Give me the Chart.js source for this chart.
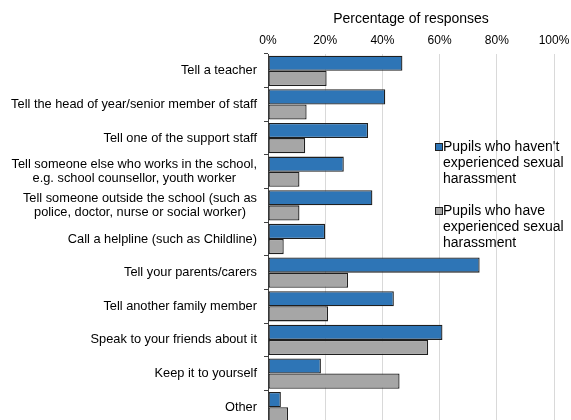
<!DOCTYPE html>
<html>
<head>
<meta charset="utf-8">
<script src="https://cdn.jsdelivr.net/npm/chart.js@4"></script>
<style>
  html, body { margin: 0; padding: 0; background: #fff; overflow: hidden; }
  #wrap { width: 571px; height: 426px; }
</style>
</head>
<body>
<div id="wrap"><canvas id="grafico" width="571" height="426"></canvas></div>
<script>
// categorias (eixo y)
const categorias = [
    ['Tell a teacher'],
    ['Tell the head of year/senior member of staff'],
    ['Tell one of the support staff'],
    ['Tell someone else who works in the school,', 'e.g. school counsellor, youth worker'],
    ['Tell someone outside the school (such as', 'police, doctor, nurse or social worker)'],
    ['Call a helpline (such as Childline)'],
    ['Tell your parents/carers'],
    ['Tell another family member'],
    ['Speak to your friends about it'],
    ['Keep it to yourself'],
    ['Other']
]

// valores em %
const semAssedio = [47, 41, 35, 26.5, 36.5, 20, 74, 44, 61, 18.5, 4.5]
const comAssedio = [20.5, 13.5, 13, 11, 11, 5.5, 28, 21, 56, 46, 7]

const nomeSem = ["Pupils who haven't", 'experienced sexual', 'harassment']
const nomeCom = ['Pupils who have', 'experienced sexual', 'harassment']

const ticksX = [0, 20, 40, 60, 80, 100]

const fonte = 'Arial, "Liberation Sans", sans-serif'

// rótulos do eixo y desenhados a mão (linhas centralizadas, bloco alinhado à direita)
const rotulosY = {
    id: 'rotulosY',
    afterDraw(chart) {
        const ctx = chart.ctx
        const y = chart.scales.y
        const direita = chart.chartArea.left - 11
        ctx.save()
        ctx.font = '12.8px ' + fonte
        ctx.fillStyle = '#000'
        ctx.textAlign = 'center'
        ctx.textBaseline = 'middle'
        for (var i = 0; i < categorias.length; i++) {
            var linhas = categorias[i]
            var largura = 0
            for (var j = 0; j < linhas.length; j++) {
                largura = Math.max(largura, ctx.measureText(linhas[j]).width)
            }
            var centroY = y.getPixelForTick(i)
            var alt = 14
            var inicio = centroY - (linhas.length - 1) * alt / 2
            for (var j = 0; j < linhas.length; j++) {
                ctx.fillText(linhas[j], direita - largura / 2, inicio + j * alt)
            }
        }
        ctx.restore()
    }
}

// legenda dentro da área do gráfico
const legenda = {
    id: 'legenda',
    afterDraw(chart) {
        const ctx = chart.ctx
        const itens = [
            { linhas: nomeSem, ds: chart.data.datasets[0], y: 147 },
            { linhas: nomeCom, ds: chart.data.datasets[1], y: 211 }
        ]
        ctx.save()
        ctx.font = '14px ' + fonte
        ctx.textBaseline = 'middle'
        ctx.textAlign = 'left'
        itens.forEach(function (item) {
            ctx.fillStyle = item.ds.backgroundColor
            ctx.strokeStyle = item.ds.borderColor
            ctx.lineWidth = 1
            ctx.fillRect(436, item.y - 3, 6, 6)
            ctx.strokeRect(435.5, item.y - 3.5, 7, 7)
            ctx.fillStyle = '#000'
            for (var j = 0; j < item.linhas.length; j++) {
                ctx.fillText(item.linhas[j], 443, item.y + j * 16)
            }
        })
        ctx.restore()
    }
}

new Chart(document.getElementById('grafico'), {
    type: 'bar',
    data: {
        labels: categorias,
        datasets: [{
            label: nomeSem.join(' '),
            data: semAssedio,
            backgroundColor: '#2E75B6',
            borderColor: '#1F1F1F',
            borderWidth: 1.3,
            borderSkipped: false,
            categoryPercentage: 0.9,
            barPercentage: 1
        }, {
            label: nomeCom.join(' '),
            data: comAssedio,
            backgroundColor: '#A6A6A6',
            borderColor: '#1F1F1F',
            borderWidth: 1.3,
            borderSkipped: false,
            categoryPercentage: 0.9,
            barPercentage: 1
        }]
    },
    options: {
        indexAxis: 'y',
        responsive: false,
        animation: false,
        layout: { padding: { left: 0, right: 17, top: 0, bottom: 2 } },
        plugins: {
            legend: { display: false },
            tooltip: { enabled: false }
        },
        scales: {
            x: {
                position: 'top',
                min: 0,
                max: 100,
                afterBuildTicks(scale) {
                    scale.ticks = ticksX.map(function (v) { return { value: v } })
                },
                afterFit(scale) {
                    scale.height = 54
                    scale.paddingLeft = 0
                    scale.paddingRight = 0
                },
                ticks: {
                    padding: 6,
                    color: '#000',
                    font: { family: fonte, size: 12 },
                    callback: function (v) { return v + '%' }
                },
                grid: { color: '#D9D9D9', drawTicks: false },
                border: { display: false },
                title: {
                    display: true,
                    text: 'Percentage of responses',
                    color: '#000',
                    font: { family: fonte, size: 14 },
                    padding: { top: 11, bottom: 0 }
                }
            },
            y: {
                afterFit(scale) { scale.width = 268 },
                ticks: { display: false },
                grid: {
                    drawOnChartArea: false,
                    tickLength: 4,
                    color: '#404040',
                    offset: true
                },
                border: { display: true, color: '#404040', width: 1 }
            }
        }
    },
    plugins: [rotulosY, legenda]
});
</script>
</body>
</html>
